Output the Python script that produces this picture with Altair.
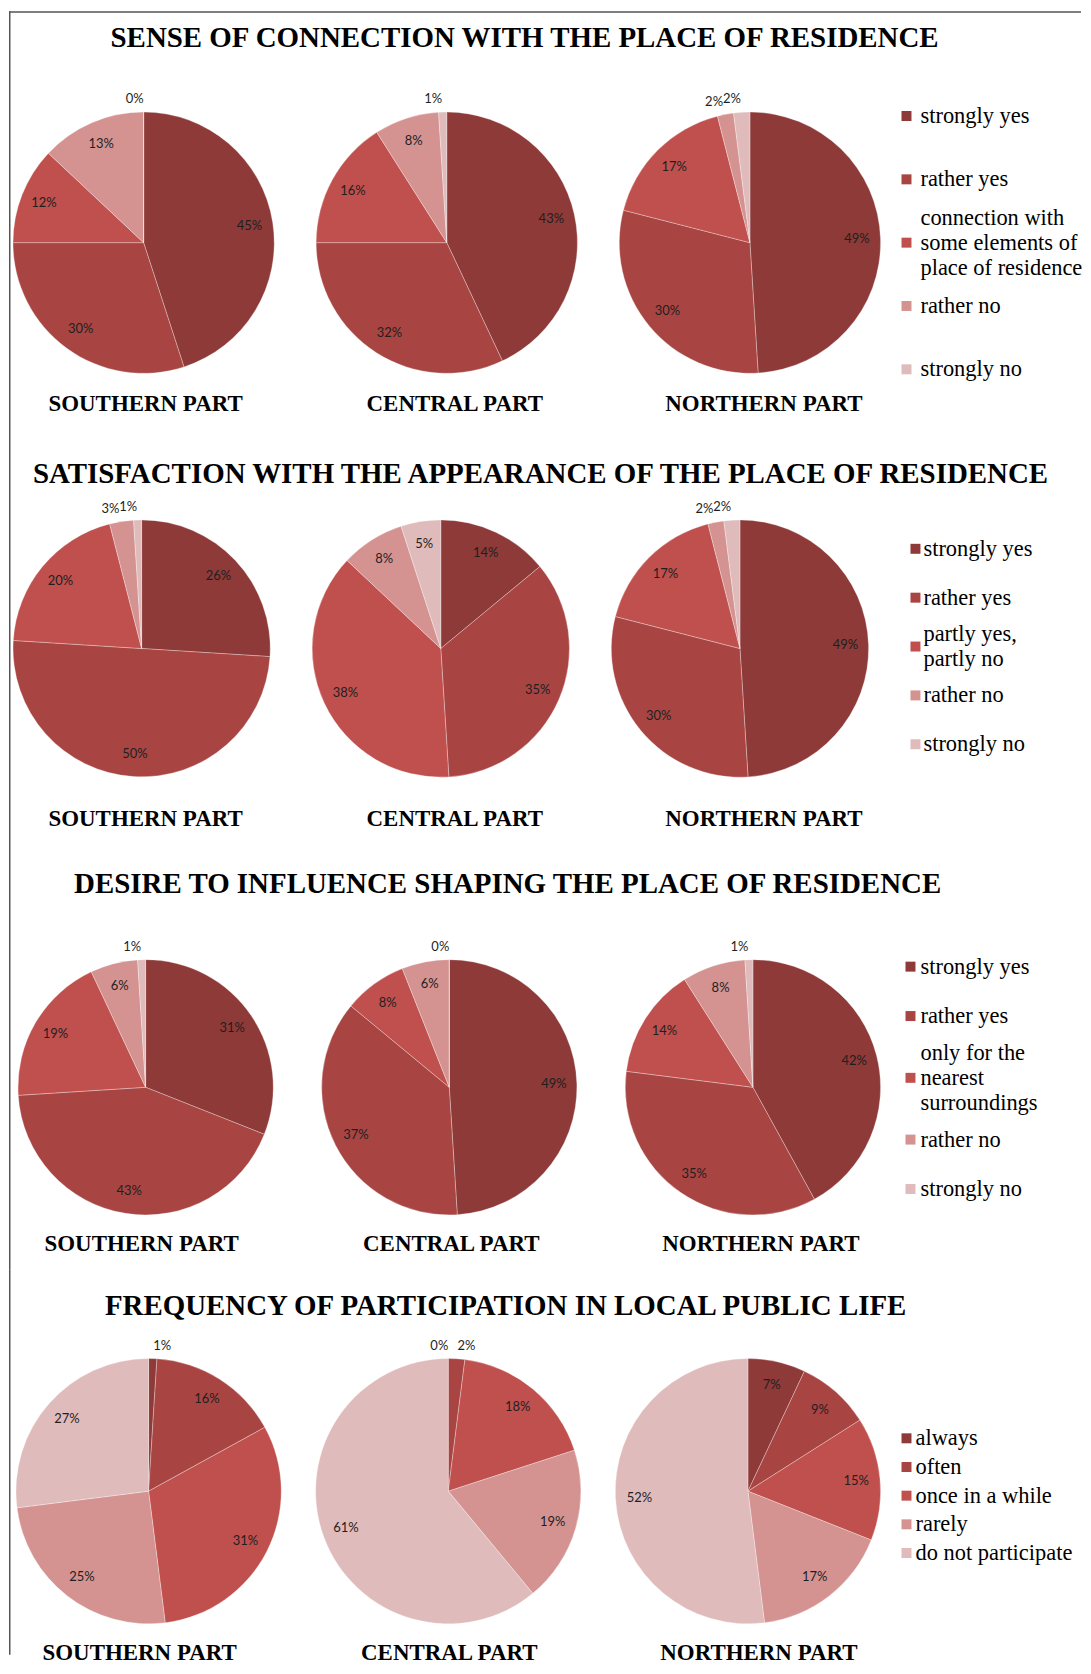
import math
import altair as alt
import pandas as pd

# ---------------- data ----------------
regions = ["SOUTHERN PART", "CENTRAL PART", "NORTHERN PART"]

titles = [
    "SENSE OF CONNECTION WITH THE PLACE OF RESIDENCE",
    "SATISFACTION WITH THE APPEARANCE OF THE PLACE OF RESIDENCE",
    "DESIRE TO INFLUENCE SHAPING THE PLACE OF RESIDENCE",
    "FREQUENCY OF PARTICIPATION IN LOCAL PUBLIC LIFE",
]

cats_sense = ["strongly yes", "rather yes",
              "connection with\nsome elements of\nplace of residence",
              "rather no", "strongly no"]
cats_appearance = ["strongly yes", "rather yes", "partly yes,\npartly no",
                   "rather no", "strongly no"]
cats_influence = ["strongly yes", "rather yes",
                  "only for the\nnearest\nsurroundings",
                  "rather no", "strongly no"]
cats_participation = ["always", "often", "once in a while", "rarely",
                      "do not participate"]

# values per region: southern, central, northern (percent)
sense = [[45, 30, 12, 13, 0], [43, 32, 16, 8, 1], [49, 30, 17, 2, 2]]
appearance = [[26, 50, 20, 3, 1], [14, 35, 38, 8, 5], [49, 30, 17, 2, 2]]
influence = [[31, 43, 19, 6, 1], [49, 37, 8, 6, 0], [42, 35, 14, 8, 1]]
participation = [[1, 16, 31, 25, 27], [0, 2, 18, 19, 61], [7, 9, 15, 17, 52]]

palette = ["#8D3A38", "#A84543", "#C0504D", "#D49391", "#E0BBBB"]

# ---------------- layout (pixels) ----------------
W = 1075
layouts = [
    dict(H=432, tx=517, ty=27, px=[135, 743], py=232, R=131, lx=[137, 757], ly=394,
         gy=[105, 359], lw=0.0, sx=900, gx=914, top=True),
    dict(H=408, tx=533, ty=32, px=[133, 733], py=207, R=129, lx=[137, 757], ly=378,
         gy=[107, 303], lw=0.0, sx=909, gx=917, top=False),
    dict(H=422, tx=500, ty=35, px=[137, 746], py=239, R=128, lx=[133, 754], ly=396,
         gy=[118, 341], lw=0.25, sx=904, gx=914, top=False),
    dict(H=386, tx=498, ty=36, px=[140, 741], py=222, R=133, lx=[131, 752], ly=384,
         gy=[169, 284], lw=0.0, sx=900, gx=909, top=False),
]

SERIF = "Liberation Serif"
SANS = "Lato"
LINE_H = 25


def section(title, cats, values, L):
    rows = []
    for i, reg in enumerate(regions):
        for j, (c, v) in enumerate(zip(cats, values[i])):
            rows.append({"region": reg, "cat": c, "order": j, "pct": v})
    df = pd.DataFrame(rows)
    R = L["R"]

    base = alt.Chart(df).transform_window(
        cum="sum(pct)", groupby=["region"], sort=[alt.SortField("order")],
        frame=[None, 0]
    ).transform_calculate(
        start="datum.cum - datum.pct",
        mid="datum.cum - datum.pct / 2",
        side="(datum.cum - datum.pct / 2) <= 0 ? 100 : (datum.cum - datum.pct / 2)",
        label="datum.pct + '%'",
    )

    xs = alt.X("region:N", axis=None,
               scale=alt.Scale(type="point", domain=regions, range=L["px"], padding=0))
    ts = alt.Scale(domain=[0, 100], range=[0, 2 * math.pi])
    cs = alt.Scale(domain=cats, range=palette)

    arcs = base.mark_arc(radius=R, stroke="white", strokeWidth=0.6,
                         strokeOpacity=0.5).encode(
        x=xs, y=alt.value(L["py"]),
        theta=alt.Theta("start:Q", scale=ts, stack=None),
        theta2=alt.Theta2("cum"),
        color=alt.Color("cat:N", scale=cs, legend=None),
    )

    inside = base.transform_filter("datum.pct >= 4").mark_text(
        font=SANS, fontSize=13, color="#1f1f1f"
    ).encode(
        x=xs, y=alt.value(L["py"]),
        theta=alt.Theta("mid:Q", scale=ts, stack=None),
        radius=alt.value(0.82 * R),
        text="label:N",
    )

    out_left = base.transform_filter("datum.pct < 4 && datum.side >= 50").mark_text(
        font=SANS, fontSize=13, color="#1f1f1f", align="right"
    ).encode(
        x=xs, y=alt.value(L["py"]),
        theta=alt.Theta("side:Q", scale=ts, stack=None),
        radius=alt.value(R + 13),
        text="label:N",
    )

    out_right = base.transform_filter("datum.pct < 4 && datum.side < 50").mark_text(
        font=SANS, fontSize=13, color="#1f1f1f", align="left"
    ).encode(
        x=xs, y=alt.value(L["py"]),
        theta=alt.Theta("side:Q", scale=ts, stack=None),
        radius=alt.value(R + 13),
        text="label:N",
    )

    parts = alt.Chart(pd.DataFrame({"region": regions})).mark_text(
        font=SERIF, fontWeight="bold", fontSize=23, color="black"
    ).encode(
        x=alt.X("region:N", axis=None,
                scale=alt.Scale(type="point", domain=regions, range=L["lx"], padding=0)),
        y=alt.value(L["ly"]),
        text="region:N",
    )

    ttl = alt.Chart(pd.DataFrame({"t": [title]})).mark_text(
        font=SERIF, fontWeight="bold", fontSize=29, color="black"
    ).encode(x=alt.value(L["tx"]), y=alt.value(L["ty"]), text="t:N")

    # legend: entries spaced by a unit step plus extra room for multi-line labels
    leg_df = pd.DataFrame({"cat": cats, "order": list(range(len(cats)))})
    leg_base = alt.Chart(leg_df).transform_calculate(
        nlines="length(split(datum.cat, '\\n'))"
    ).transform_window(
        prev="lag(nlines)", sort=[alt.SortField("order")]
    ).transform_calculate(
        step=f"datum.prev == null ? 0 : 1 + {L['lw']} * (datum.nlines + datum.prev - 2) / 2"
    ).transform_window(
        pos="sum(step)", sort=[alt.SortField("order")], frame=[None, 0]
    )
    gy = alt.Y("pos:Q", axis=None,
               scale=alt.Scale(range=L["gy"], zero=True, nice=False))
    squares = leg_base.mark_square(size=100, opacity=1).encode(
        x=alt.value(L["sx"]), y=gy,
        color=alt.Color("cat:N", scale=cs, legend=None),
    )
    legtexts = []
    for n in (1, 2, 3):
        legtexts.append(
            leg_base.transform_filter(f"datum.nlines == {n}").mark_text(
                align="left", baseline="middle", font=SERIF, fontSize=22.5,
                lineBreak="\n", lineHeight=LINE_H, color="black",
                dy=-(n - 1) * LINE_H / 2,
            ).encode(x=alt.value(L["gx"]), y=gy, text="cat:N")
        )

    one = pd.DataFrame({"a": [0]})
    left_rule = alt.Chart(one).mark_rule(color="#555", strokeWidth=1.5).encode(
        x=alt.value(0.75), y=alt.value(0), y2=alt.value(L["H"])
    )
    layers = [arcs, inside, out_left, out_right, parts, ttl, squares] + legtexts + [left_rule]
    if L["top"]:
        top_rule = alt.Chart(one).mark_rule(color="#555", strokeWidth=1.5).encode(
            x=alt.value(0), x2=alt.value(W), y=alt.value(0.75)
        )
        layers.append(top_rule)

    return alt.layer(*layers).resolve_scale(x="independent").properties(
        width=W, height=L["H"]
    )


sections = [
    section(titles[0], cats_sense, sense, layouts[0]),
    section(titles[1], cats_appearance, appearance, layouts[1]),
    section(titles[2], cats_influence, influence, layouts[2]),
    section(titles[3], cats_participation, participation, layouts[3]),
]

chart = alt.vconcat(*sections, spacing=0).resolve_scale(
    color="independent", x="independent", y="independent", theta="independent"
).properties(
    padding=0, bounds="flush", background="white"
).configure_view(stroke=None)

chart.save("out.html", embed_options={"renderer": "svg", "actions": False})
